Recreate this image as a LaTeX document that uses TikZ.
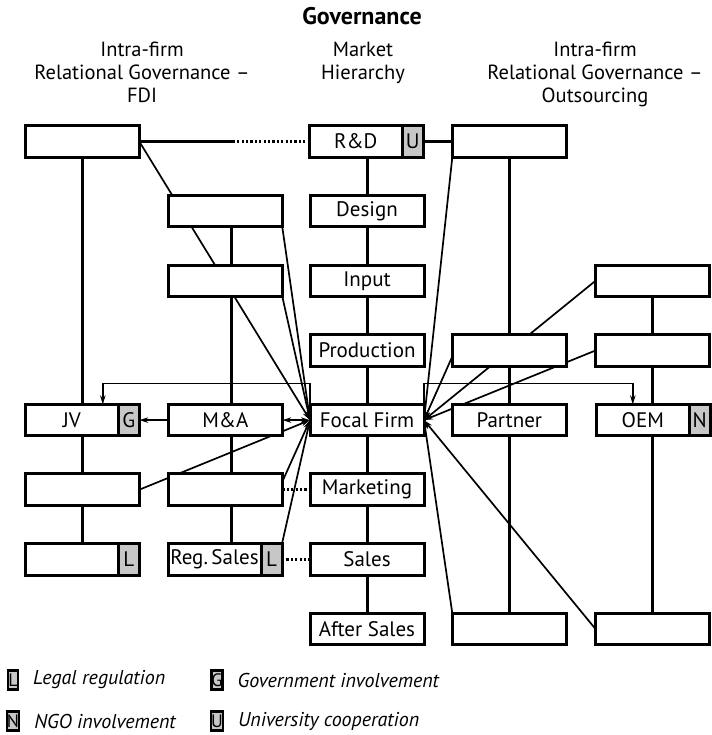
\documentclass[tikz,border=0pt]{standalone}
\usepackage{fontspec}
\setmainfont{PT Sans}
\usetikzlibrary{positioning}
\usetikzlibrary{arrows.meta}
\usetikzlibrary{backgrounds}

\tikzset{
  stage/.style={draw, fill=white, line width=3pt, minimum width=114pt, minimum height=31.5pt,
    inner sep=0pt, outer sep=0pt, font=\fontsize{21}{24}\selectfont},
  part/.style={stage, minimum width=93pt},
  tag/.style={stage, fill=black!22, minimum width=21pt},
  link/.style={line width=3pt},
  weak/.style={link, dash pattern=on 2.2pt off 2.2pt},
  flow/.style={line width=1.7pt, ->},
  head/.style={align=center, inner sep=0pt, font=\fontsize{20.5}{23}\selectfont},
  legtag/.style={draw, fill=black!22, line width=2.4pt, minimum width=10pt, minimum height=19pt,
    inner sep=0pt, outer sep=0pt, font=\fontsize{18}{18}\selectfont},
  legtext/.style={inner sep=0pt, font=\fontsize{20}{22}\selectfont\itshape}
}

\begin{document}
\begin{tikzpicture}[x=1pt, y=-1pt, >={Stealth[length=9pt,width=5.5pt]}]
    \useasboundingbox (0,0) rectangle (711,735);

    % headings
    \node [head, font=\fontsize{24}{26}\selectfont\bfseries, anchor=north] (title) at (362,7) {Governance};
    \node [head, anchor=north] (fdihead) at (142,42) {Intra-firm\\Relational Governance –\\FDI};
    \node [head, anchor=north] (markethead) at (363,42) {Market\\Hierarchy};
    \node [head, anchor=north] (outhead) at (595,42) {Intra-firm\\Relational Governance –\\Outsourcing};

    % FDI column
    \node [stage] (fdi1) at (82.3,141.5) {};
    \node [part] (jv) at (71.8,420.1) {JV};
    \node [tag, right=0pt of jv] (jvG) {G};
    \node [stage] (fdi3) at (82.3,489.7) {};
    \node [part] (fdi4) at (71.8,559.4) {};
    \node [tag, right=0pt of fdi4] (fdi4L) {L};

    % M&A column
    \node [stage] (ma1) at (225.3,211.2) {};
    \node [stage] (ma2) at (225.3,280.8) {};
    \node [stage] (ma) at (225.3,420.1) {M\&A};
    \node [stage] (ma4) at (225.3,489.7) {};
    \node [part] (regsales) at (214.5,559.4) {Reg.\,Sales};
    \node [tag, right=0pt of regsales] (regL) {L};

    % value chain of the focal firm
    \node [part] (rd) at (355.8,141.5) {R\&D};
    \node [tag, right=0pt of rd] (rdU) {U};
    \node [stage] (design) at (367,211.2) {Design};
    \node [stage] (input) at (367,280.8) {Input};
    \node [stage] (production) at (367,350.5) {Production};
    \node [stage] (focal) at (367,420.1) {Focal Firm};
    \node [stage] (marketing) at (367,489.7) {Marketing};
    \node [stage] (sales) at (367,559.4) {Sales};
    \node [stage] (aftersales) at (367,629) {After Sales};

    % outsourcing columns
    \node [stage] (out1) at (509.3,141.5) {};
    \node [stage] (out2) at (509.3,350.5) {};
    \node [stage] (partner) at (509.3,420.1) {Partner};
    \node [stage] (out4) at (509.3,629) {};
    \node [stage] (oem1) at (652.5,280.8) {};
    \node [stage] (oem2) at (652.5,350.5) {};
    \node [part] (oem) at (642.8,420.1) {OEM};
    \node [tag, right=0pt of oem] (oemN) {N};
    \node [stage] (oem4) at (652.5,629) {};

    \begin{scope}[on background layer]
        \draw [link] (fdi1.south) -- (fdi1.south |- fdi4.north);
        \draw [link] ([xshift=5.9pt]ma1.south) -- ([xshift=5.9pt]ma1.south |- regsales.north);
        \draw [link] ([xshift=0.3pt]design.north |- rd.south) -- ([xshift=0.3pt]aftersales.north);
        \draw [link] (out1.south) -- (out4.north);
        \draw [link] (oem1.south) -- (oem4.north);

        \foreach \src in {fdi1.east, ma1.south east, ma2.south east, fdi3.east, regL.north east}
            \draw [flow] (\src) -- (focal.west);
        \draw [flow] ([yshift=8pt]ma4.east) -- (focal.west);
        \foreach \src in {out1.south west, oem1.west, oem2.west, out4.north west, oem4.west}
            \draw [flow] (\src) -- (focal.east);
        \draw [flow] ([yshift=-6pt]out2.west) -- (focal.east);
    \end{scope}

    \path (fdi1.east) -- (rd.west) coordinate[pos=0.55] (rdgap);
    \draw [link] (fdi1.east) -- (rdgap);
    \draw [weak] (rdgap) -- (rd.west);
    \draw [link] (rdU.east) -- (out1.west);
    \draw [weak] (ma4.east) -- (marketing.west);
    \draw [weak] (regL.east) -- (sales.west);
    \draw [flow] (ma.west) -- (jvG.east);
    \draw [flow, <->] (ma.east) -- (focal.west);

    \coordinate (jvin) at ([xshift=31pt]jv.north);
    \coordinate (oemin) at ([xshift=-10pt]oem.north);
    \draw [flow] (focal.north west) -- ++(0,-21) -| (jvin);
    \draw [flow] (focal.north east) -- ++(0,-21) -| (oemin);

    % legend
    \node [legtag] (legL) at (13,680) {L};
    \node [legtext, right=15pt of legL] (legLt) {Legal regulation};
    \node [legtag] (legN) at (13,721) {N};
    \node [legtext, right=15pt of legN] (legNt) {NGO involvement};
    \node [legtag] (legG) at (217,680) {G};
    \node [legtext, right=15pt of legG] (legGt) {Government involvement};
    \node [legtag] (legU) at (217,721) {U};
    \node [legtext, right=15pt of legU] (legUt) {University cooperation};
\end{tikzpicture}
\end{document}
